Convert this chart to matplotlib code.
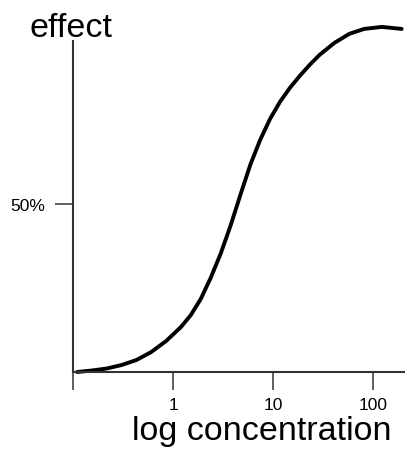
import numpy as np
import matplotlib
matplotlib.use("Agg")
import matplotlib.pyplot as plt

plt.rcParams['font.family'] = ['Liberation Sans', 'DejaVu Sans']

# dose-response curve (concentration, effect in %)
conc = [0.1095, 0.1542, 0.2171, 0.3056, 0.4302, 0.6056, 0.8527, 1.200,
        1.507, 1.893, 2.378, 2.987, 3.752, 4.714, 5.920, 7.436, 9.339,
        11.73, 14.73, 18.51, 23.25, 29.20, 41.11, 57.85, 81.46, 122.8, 193.7]
effect = [0.0, 0.45, 1.04, 2.08, 3.57, 5.95, 9.23, 13.39,
          16.96, 21.73, 27.98, 35.12, 43.45, 52.68, 61.61, 69.05, 75.30,
          80.36, 84.52, 88.10, 91.37, 94.35, 97.92, 100.60, 102.08, 102.68, 102.08]

xticks = [0.1, 1, 10, 100]
xticklabels = ['', '1', '10', '100']
yticks = [50]
yticklabels = ['50%']

fig = plt.figure(figsize=(4.06, 4.56), dpi=100)
ax = fig.add_axes([0.180, 0.182, 0.818, 0.726])

ax.plot(conc, effect, color='black', lw=2.8, clip_on=False,
        solid_capstyle='round', solid_joinstyle='round')

ax.set_xscale('log')
ax.set_xlim(0.1, 210)
ax.set_ylim(0, 98.5)
ax.set_xticks(xticks)
ax.set_xticklabels(xticklabels)
ax.minorticks_off()
ax.set_yticks(yticks)
ax.set_yticklabels(yticklabels)

for side in ['top', 'right']:
    ax.spines[side].set_visible(False)
for side in ['left', 'bottom']:
    ax.spines[side].set_color('#333333')
    ax.spines[side].set_linewidth(1.5)

ax.tick_params(axis='x', direction='out', length=13, width=1.2, color='#444444',
               pad=5, labelsize=12.5)
ax.tick_params(axis='y', direction='out', length=13, width=1.2, color='#444444',
               pad=7, labelsize=12.5)

fig.text(0.645, 0.035, 'log concentration', fontsize=24.5, ha='center', va='baseline')
fig.text(0.072, 0.919, 'effect', fontsize=24.5, ha='left', va='baseline')

fig.savefig('out.png', dpi=100)
